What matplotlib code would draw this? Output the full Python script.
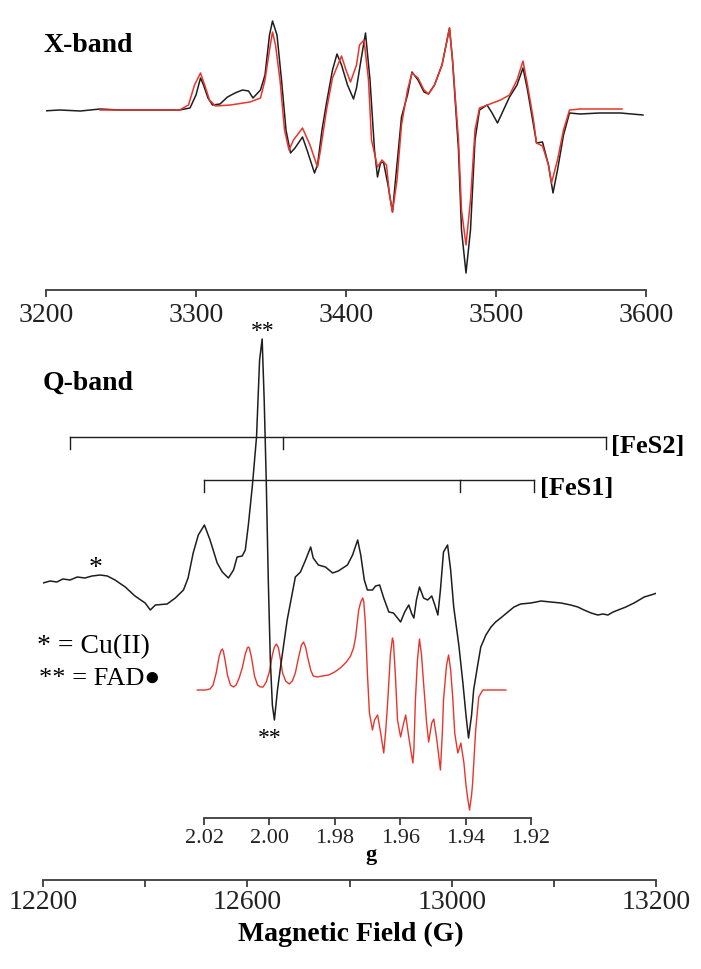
import numpy as np
import matplotlib
matplotlib.use('Agg')
import matplotlib.pyplot as plt

W, H = 701, 969

# X-band spectrum (field in G, signal in arbitrary units)
xb_field_exp = [3198, 3209, 3223, 3236, 3249, 3263, 3276, 3289, 3296, 3300,
                3303, 3305, 3308, 3311, 3316, 3321, 3326, 3331, 3335, 3338,
                3343, 3346, 3349, 3351, 3354, 3357, 3360, 3363, 3366, 3371,
                3374, 3379, 3381, 3384, 3387, 3391, 3394, 3397, 3401, 3405,
                3407, 3410, 3413, 3416, 3419, 3421, 3423, 3425, 3428, 3431,
                3433, 3437, 3441, 3444, 3448, 3452, 3455, 3459, 3464, 3469,
                3471, 3475, 3477, 3480, 3483, 3486, 3489, 3494, 3497, 3501,
                3505, 3509, 3514, 3518, 3521, 3525, 3527, 3531, 3535, 3538,
                3541, 3545, 3549, 3556, 3569, 3583, 3598]
xb_exp = [-1, 0, -1, 1, 0, 0, 0, 0, 2, 15,
          32, 25, 12, 5, 6, 13, 17, 20, 19, 12,
          20, 35, 75, 89, 75, 30, -20, -43, -38, -27,
          -40, -63, -55, -20, 7, 40, 56, 45, 25, 11,
          22, 50, 77, 30, -40, -67, -53, -52, -75, -102,
          -70, -7, 15, 38, 30, 18, 16, 25, 45, 82,
          50, -40, -120, -163, -120, -30, 0, 5, -2, -13,
          0, 13, 25, 42, 20, -15, -33, -32, -55, -83,
          -60, -25, -3, -4, -3, -3, -5]

xb_field_sim = [3236, 3263, 3289, 3295, 3299, 3303, 3306, 3309, 3313, 3323,
                3336, 3343, 3346, 3349, 3351, 3353, 3356, 3359, 3362, 3365,
                3371, 3376, 3381, 3383, 3387, 3391, 3397, 3400, 3403, 3407,
                3409, 3412, 3415, 3417, 3421, 3424, 3427, 3429, 3431, 3434,
                3437, 3441, 3444, 3448, 3452, 3455, 3459, 3464, 3469, 3471,
                3475, 3477, 3480, 3483, 3486, 3489, 3496, 3503, 3509, 3514,
                3518, 3521, 3525, 3527, 3531, 3535, 3537, 3541, 3545, 3549,
                3556, 3584]
xb_sim = [0, 0, 0, 5, 25, 37, 24, 10, 4, 5,
          8, 12, 30, 60, 78, 65, 30, -20, -40, -30,
          -18, -35, -57, -40, 0, 32, 54, 40, 28, 45,
          65, 70, 30, -30, -57, -50, -55, -85, -102, -70,
          -15, 20, 37, 32, 20, 16, 25, 45, 82, 50,
          -30, -100, -135, -90, -20, 2, 6, 10, 15, 30,
          49, 25, -10, -33, -36, -55, -73, -50, -20, 0,
          1, 1]

# Q-band spectrum
qb_field_exp = [12200, 12214, 12227, 12239, 12253, 12267, 12282, 12296, 12312, 12326,
                12341, 12361, 12380, 12400, 12410, 12420, 12443, 12459, 12475, 12484,
                12494, 12504, 12516, 12527, 12541, 12551, 12563, 12573, 12580, 12590,
                12596, 12602, 12610, 12618, 12624, 12629, 12633, 12637, 12641, 12645,
                12649, 12653, 12659, 12665, 12678, 12694, 12704, 12714, 12724, 12729,
                12739, 12753, 12767, 12778, 12796, 12806, 12816, 12822, 12829, 12835,
                12845, 12851, 12859, 12867, 12877, 12886, 12894, 12900, 12908, 12916,
                12922, 12926, 12931, 12937, 12945, 12953, 12961, 12967, 12973, 12978,
                12984, 12992, 12998, 13004, 13014, 13022, 13028, 13033, 13039, 13043,
                13051, 13057, 13067, 13077, 13086, 13096, 13110, 13122, 13135, 13155,
                13175, 13194, 13214, 13233, 13247, 13259, 13273, 13286, 13296, 13306,
                13316, 13326, 13341, 13357, 13367, 13377, 13390, 13402]
qb_exp = [-3, -1, -2, 1, 0, 3, 2, 4, 5, 4,
          0, -7, -16, -23, -30, -25, -24, -18, -10, 2,
          27, 45, 55, 40, 17, 8, 2, 10, 23, 24,
          30, 55, 95, 143, 220, 241, 180, 100, 0, -80,
          -125, -140, -110, -87, -40, 3, 8, 20, 33, 22,
          15, 13, 7, 9, 15, 25, 40, 25, 0, -10,
          -10, -6, -5, -18, -32, -33, -38, -42, -32, -25,
          -34, -38, -20, -7, -18, -20, -16, -25, -35, -10,
          28, 35, 10, -27, -65, -103, -135, -158, -135, -110,
          -85, -67, -55, -47, -42, -38, -32, -27, -24, -23,
          -21, -22, -23, -25, -27, -30, -33, -35, -34, -35,
          -32, -30, -27, -23, -20, -17, -15, -13]

qb_field_sim = [12502, 12518, 12527, 12533, 12539, 12545, 12549, 12551, 12553, 12557,
                12561, 12567, 12573, 12578, 12584, 12590, 12596, 12600, 12602, 12604,
                12608, 12614, 12620, 12626, 12631, 12637, 12643, 12649, 12653, 12657,
                12661, 12665, 12669, 12675, 12682, 12688, 12694, 12700, 12706, 12710,
                12714, 12718, 12724, 12729, 12737, 12747, 12759, 12771, 12782, 12794,
                12802, 12808, 12812, 12818, 12822, 12826, 12828, 12831, 12835, 12839,
                12845, 12849, 12855, 12861, 12867, 12871, 12875, 12880, 12884, 12886,
                12890, 12894, 12900, 12906, 12910, 12916, 12924, 12926, 12929, 12933,
                12937, 12941, 12945, 12951, 12955, 12961, 12965, 12971, 12978, 12982,
                12984, 12990, 12994, 12998, 13002, 13006, 13012, 13018, 13024, 13028,
                13031, 13035, 13039, 13041, 13047, 13053, 13061, 13106]
qb_sim = [0, 0, 1, 5, 17, 34, 40, 41, 39, 28,
          15, 5, 3, 5, 12, 22, 36, 42, 43, 42,
          33, 14, 5, 3, 3, 8, 18, 35, 43, 46,
          42, 30, 17, 9, 6, 9, 17, 32, 45, 48,
          43, 33, 20, 14, 13, 14, 15, 18, 22, 28,
          34, 42, 53, 80, 88, 92, 88, 67, 17, -23,
          -40, -30, -25, -43, -63, -40, -10, 35, 52, 48,
          13, -30, -47, -33, -25, -47, -73, -60, -10, 30,
          51, 35, 7, -33, -52, -33, -29, -50, -80, -40,
          -10, 25, 35, 20, -7, -43, -63, -53, -73, -95,
          -107, -120, -105, -93, -40, -7, 0, 0]

# g-value stick diagrams (field positions, G)
fes2_field = [12253, 12669, 13302]
fes1_field = [12516, 13016, 13161]

# axis ticks
xb_ticks = [3200, 3300, 3400, 3500, 3600]
qb_ticks = [12200, 12400, 12600, 12800, 13000, 13200, 13400]
qb_ticklabels = ['12200', '', '12600', '', '13000', '', '13200']
g_ticks = [2.02, 2.00, 1.98, 1.96, 1.94, 1.92]

BLACK = '#1e1e1e'
RED = '#e8352c'
SPINE = '#3c3c3c'
SERIF = ['Liberation Serif', 'DejaVu Serif']

plt.rcParams['font.family'] = SERIF


def px(x, y):
    return x / W, 1 - y / H


def bare_axis(ax):
    for s in ['top', 'left', 'right']:
        ax.spines[s].set_visible(False)
    ax.spines['bottom'].set_color(SPINE)
    ax.spines['bottom'].set_linewidth(1.3)
    ax.set_yticks([])
    ax.patch.set_alpha(0)
    ax.tick_params(axis='x', direction='out', length=5, width=1.3,
                   color=SPINE, labelcolor='#222222')


fig = plt.figure(figsize=(W / 100, H / 100), dpi=100)

# ---- X-band ----
ax_x = fig.add_axes([46 / W, 1 - 290 / H, 600 / W, 290 / H])
bare_axis(ax_x)
ax_x.plot(xb_field_exp, xb_exp, color=BLACK, lw=1.1)
ax_x.plot(xb_field_sim, xb_sim, color=RED, lw=1.1)
ax_x.set_xlim(3200, 3600)
ax_x.set_ylim(-180, 110)
ax_x.set_xticks(xb_ticks)
ax_x.tick_params(axis='x', labelsize=20, pad=4)

# ---- Q-band ----
offset_sim = -110
ax_q = fig.add_axes([43 / W, 1 - 880 / H, 613 / W, 580 / H])
bare_axis(ax_q)
ax_q.plot(qb_field_exp, qb_exp, color=BLACK, lw=1.1, zorder=3)
ax_q.plot(qb_field_sim, np.array(qb_sim) + offset_sim, color=RED, lw=1.0, zorder=2)
ax_q.set_xlim(12200, 13400)
ax_q.set_ylim(-300, 280)
ax_q.set_xticks(qb_ticks)
ax_q.set_xticklabels(qb_ticklabels)
ax_q.tick_params(axis='x', labelsize=20, pad=2)

# stick diagrams for the two FeS clusters
for fields, level in [(fes2_field, 143), (fes1_field, 100)]:
    ax_q.plot([fields[0], fields[-1]], [level, level], color=BLACK, lw=1.0)
    for f in fields:
        ax_q.plot([f, f], [level, level - 12], color=BLACK, lw=1.0)

# ---- g axis ----
ax_g = fig.add_axes([204 / W, 1 - 818 / H, 327 / W, 20 / H])
bare_axis(ax_g)
ax_g.set_xlim(2.02, 1.92)
ax_g.set_xticks(g_ticks)
ax_g.set_xticklabels(['%.2f' % g for g in g_ticks])
ax_g.tick_params(axis='x', labelsize=16, pad=3)

# ---- text ----
fig.text(*px(43, 52), 'X-band', fontsize=20, fontweight='bold', va='baseline')
fig.text(*px(43, 390), 'Q-band', fontsize=20, fontweight='bold', va='baseline')
fig.text(*px(611, 453), '[FeS2]', fontsize=19, fontweight='bold', va='baseline')
fig.text(*px(540, 495), '[FeS1]', fontsize=19, fontweight='bold', va='baseline')
fig.text(*px(96, 575), '*', fontsize=20, ha='center', va='baseline')
fig.text(*px(263, 337), '**', fontsize=17, ha='center', va='baseline')
fig.text(*px(270, 744), '**', fontsize=17, ha='center', va='baseline')
fig.text(*px(37, 653), '* = Cu(II)', fontsize=20, va='baseline')
fig.text(*px(39, 685), '** = FAD\u25cf', fontsize=19, va='baseline',
         family=['Liberation Serif', 'DejaVu Sans'])
fig.text(*px(371, 860), 'g', fontsize=16, fontweight='bold', ha='center', va='baseline')
fig.text(*px(351, 941), 'Magnetic Field (G)', fontsize=20, fontweight='bold',
         ha='center', va='baseline')

fig.savefig('out.png', dpi=100)
